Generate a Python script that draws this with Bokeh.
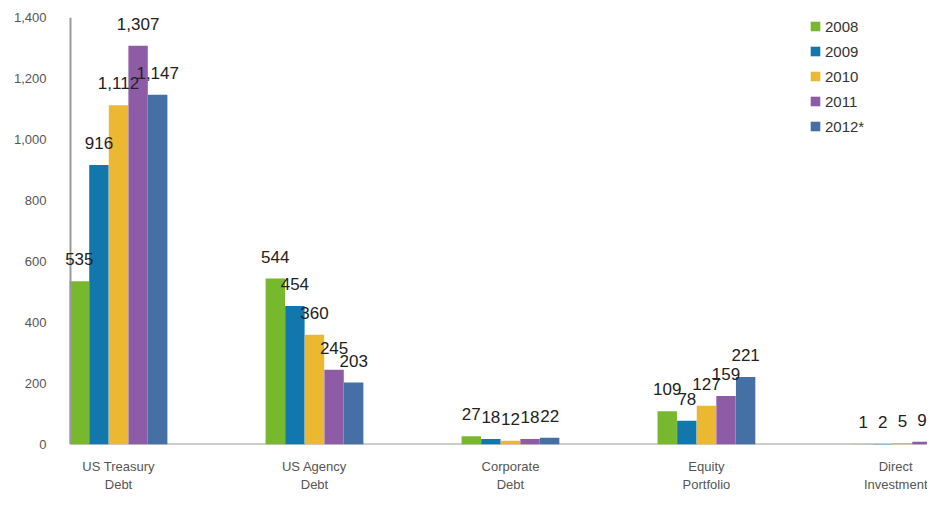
from bokeh.plotting import figure
from bokeh.models import ColumnDataSource, FixedTicker, Legend, LegendItem, NumeralTickFormatter, LabelSet, Span
from bokeh.transform import dodge
from bokeh.core.properties import value
from bokeh.embed import file_html
from bokeh.resources import INLINE

categories = ["US Treasury\nDebt", "US Agency\nDebt", "Corporate\nDebt", "Equity\nPortfolio", "Direct\nInvestment"]
years = ["2008", "2009", "2010", "2011", "2012*"]
v2008 = [535, 544, 27, 109, 1]
v2009 = [916, 454, 18, 78, 2]
v2010 = [1112, 360, 12, 127, 5]
v2011 = [1307, 245, 18, 159, 9]
v2012 = [1147, 203, 22, 221, 12]
colors = ["#77b82f", "#1277ad", "#ecb731", "#8e5ba6", "#4470a5"]
y_ticks = [0, 200, 400, 600, 800, 1000, 1200, 1400]

series = [v2008, v2009, v2010, v2011, v2012]
xs = list(range(len(categories)))

X_START = -0.296
AXIS_X = -0.245
X_END = 4.128

p = figure(width=927, height=494, output_backend="svg", toolbar_location=None,
           x_range=(X_START, X_END), y_range=(0, 1400),
           min_border_left=60, min_border_right=0, min_border_top=17, min_border_bottom=43)
p.outline_line_color = None
p.xgrid.visible = False
p.ygrid.visible = False
p.background_fill_color = "white"

# axis lines (drawn separately so that value labels may overlap the y axis as in the reference)
p.add_layout(Span(location=AXIS_X, dimension="height", line_color="#9a9a9a", line_width=2))
p.segment(x0=[AXIS_X], y0=[0], x1=[X_END], y1=[0], line_color="#9a9a9a", line_width=2)

items = []
offsets = [-0.2, -0.1, 0.0, 0.1, 0.2]
for i, (vals, yr, col) in enumerate(zip(series, years, colors)):
    labs = [f"{v:,}" for v in vals]
    if i == 4:
        labs[4] = ""  # cut off by the picture edge in the reference
    src = ColumnDataSource(dict(x=xs, top=vals, lab=labs))
    r = p.vbar(x=dodge("x", offsets[i], range=p.x_range), top="top", width=0.099, source=src,
               fill_color=col, line_color=None)
    items.append(LegendItem(label=yr, renderers=[r]))
    lbl = LabelSet(x=dodge("x", offsets[i], range=p.x_range), y="top", text="lab", source=src,
                   y_offset=16, text_align="center", text_baseline="alphabetic",
                   text_font=value("Liberation Sans"), text_font_size=value("17px"),
                   text_color="#222222")
    p.add_layout(lbl)

legend = Legend(items=items, border_line_color=None, background_fill_alpha=0,
                label_text_font="Liberation Sans", label_text_font_size="15px", label_text_color="#333333",
                glyph_width=12, glyph_height=12, label_standoff=4, spacing=7, padding=0, margin=0,
                label_height=18)
p.add_layout(legend)
legend.location = (749, 309)

p.yaxis.ticker = FixedTicker(ticks=y_ticks)
p.yaxis.formatter = NumeralTickFormatter(format="0,0")
p.yaxis.axis_line_color = None
p.yaxis.major_tick_line_color = None
p.yaxis.minor_tick_line_color = None
p.yaxis.major_label_text_font = "Liberation Sans"
p.yaxis.major_label_text_font_size = "13px"
p.yaxis.major_label_text_color = "#555555"
p.yaxis.major_label_standoff = 8

p.xaxis.ticker = FixedTicker(ticks=xs)
p.xaxis.major_label_overrides = {i: c for i, c in enumerate(categories)}
p.xaxis.axis_line_color = None
p.xaxis.major_tick_line_color = None
p.xaxis.minor_tick_line_color = None
p.xaxis.major_label_text_font = "Liberation Sans"
p.xaxis.major_label_text_font_size = "13px"
p.xaxis.major_label_text_color = "#555555"
p.xaxis.major_label_standoff = 8

open("out.html", "w").write(file_html(p, INLINE))
